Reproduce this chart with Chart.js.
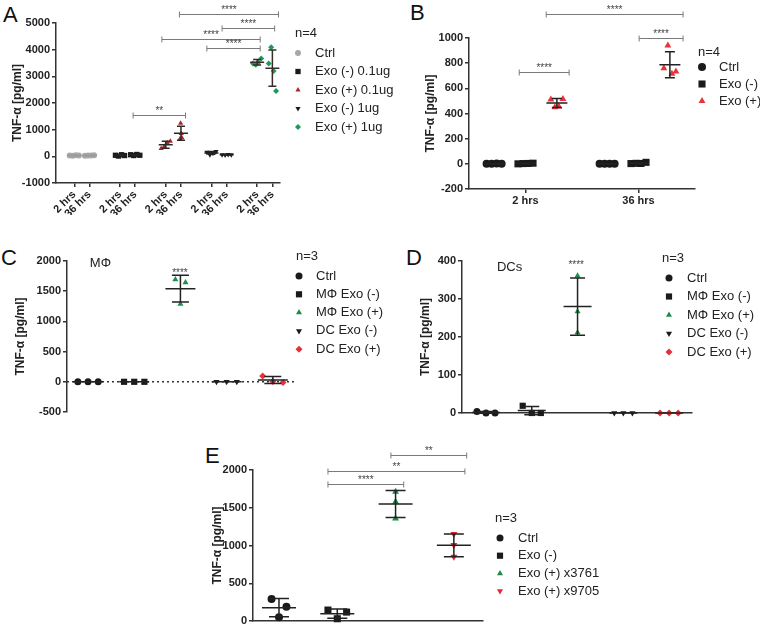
<!DOCTYPE html>
<html>
<head>
<meta charset="utf-8">
<script src="https://cdn.jsdelivr.net/npm/chart.js@4.4.1/dist/chart.umd.min.js"></script>
<style>
body { margin: 0; background: #fff; width: 760px; height: 630px; position: relative; overflow: hidden; font-family: 'Liberation Sans', Arial, sans-serif; }
canvas { position: absolute; }
.lt { position: absolute; font-size: 22px; line-height: 1; color: #111; }
</style>
</head>
<body>
<div class="lt" style="left:3px;top:4px">A</div>
<div class="lt" style="left:410px;top:2px">B</div>
<div class="lt" style="left:1px;top:247px">C</div>
<div class="lt" style="left:406px;top:247px">D</div>
<div class="lt" style="left:205px;top:445px">E</div>

<canvas id="cA" width="410" height="215" style="left:0;top:0"></canvas>
<canvas id="cB" width="380" height="230" style="left:380px;top:0"></canvas>
<canvas id="cC" width="400" height="210" style="left:0;top:215px"></canvas>
<canvas id="cD" width="380" height="210" style="left:380px;top:215px"></canvas>
<canvas id="cE" width="420" height="215" style="left:180px;top:415px"></canvas>

<script>
// ---------- data ----------
// A: each series = [2 hrs, 36 hrs]
const aLabels = ['2 hrs', '36 hrs', '2 hrs', '36 hrs', '2 hrs', '36 hrs', '2 hrs', '36 hrs', '2 hrs', '36 hrs'];
const aSeries = ['Ctrl', 'Exo (-) 0.1ug', 'Exo (+) 0.1ug', 'Exo (-) 1ug', 'Exo (+) 1ug'];
const aCtrl  = [[30, 20, 40, 30], [25, 35, 30, 40]];
const aNeg01 = [[40, 10, 60, 30], [60, 30, 70, 40]];
const aPos01 = [[290, 370, 510, 570], [660, 1240, 860, 700]];
const aNeg1  = [[150, 60, 120, 180], [60, 50, 70, 55]];
const aPos1  = [[3480, 3430, 3520, 3670], [3480, 4090, 3200, 2450]];

// B: each series = [2 hrs, 36 hrs]
const bLabels = ['2 hrs', '36 hrs'];
const bSeries = ['Ctrl', 'Exo (-)', 'Exo (+)'];
const bCtrl = [[1, 0, 2, 1], [0, 1, 1, 0]];
const bNeg  = [[0, 2, 3, 5], [2, 4, 3, 12]];
const bPos  = [[512, 450, 455, 515], [760, 940, 715, 733]];

// C: macrophages
const cSeries = ['Ctrl', 'MΦ Exo (-)', 'MΦ Exo (+)', 'DC Exo (-)', 'DC Exo (+)'];
const cValues = [[0, 0, 0], [0, 0, 0], [1695, 1287, 1645], [0, 0, 0], [95, 5, -10]];

// D: dendritic cells
const dSeries = ['Ctrl', 'MΦ Exo (-)', 'MΦ Exo (+)', 'DC Exo (-)', 'DC Exo (+)'];
const dValues = [[4, 0, 0], [19, 0, 0], [361, 267, 212], [0, 0, 0], [0, 0, 0]];

// E
const eSeries = ['Ctrl', 'Exo (-)', 'Exo (+) x3761', 'Exo (+) x9705'];
const eValues = [[291, 49, 189], [145, 30, 118], [1711, 1579, 1359], [1151, 1005, 851]];

// ---------- helpers ----------
const FONT = "'Liberation Sans', Arial, sans-serif";
const bold = s => ({family: FONT, size: s, weight: 'bold'});
// squares look smaller than circles at the same radius
const sizeFor = (style, r) => style === 'rect' ? r * 1.25 : r;

const errorBars = {
  id: 'errorBars',
  afterDatasetsDraw(chart, args, o) {
    const {ctx, scales: {x, y}} = chart;
    ctx.save();
    chart.data.datasets.forEach(ds => {
      const v = ds.data.map(p => p.y);
      const n = v.length;
      const m = v.reduce((a, b) => a + b, 0) / n;
      const sd = Math.sqrt(v.reduce((a, b) => a + (b - m) * (b - m), 0) / (n - 1));
      const cx = x.getPixelForValue(ds.center);
      const ym = y.getPixelForValue(m), yt = y.getPixelForValue(m + sd), yb = y.getPixelForValue(m - sd);
      ctx.strokeStyle = ds.barColor || '#222';
      ctx.lineWidth = 1.5;
      ctx.beginPath();
      ctx.moveTo(cx - o.meanW / 2, ym); ctx.lineTo(cx + o.meanW / 2, ym);
      ctx.moveTo(cx, yt); ctx.lineTo(cx, yb);
      ctx.moveTo(cx - o.capW / 2, yt); ctx.lineTo(cx + o.capW / 2, yt);
      ctx.moveTo(cx - o.capW / 2, yb); ctx.lineTo(cx + o.capW / 2, yb);
      ctx.stroke();
    });
    ctx.restore();
  }
};

const brackets = {
  id: 'brackets',
  afterDraw(chart, args, o) {
    if (!o.list) return;
    const {ctx, scales: {x, y}} = chart;
    ctx.save();
    ctx.strokeStyle = '#7a7a7a';
    ctx.fillStyle = '#444';
    ctx.lineWidth = 1;
    ctx.font = `10px ${FONT}`;
    ctx.textAlign = 'center';
    ctx.textBaseline = 'bottom';
    o.list.forEach(b => {
      const x1 = x.getPixelForValue(b.x1), x2 = x.getPixelForValue(b.x2), py = Math.round(y.getPixelForValue(b.y)) + 0.5;
      ctx.beginPath();
      ctx.moveTo(x1, py); ctx.lineTo(x2, py);
      ctx.moveTo(x1, py - 3); ctx.lineTo(x1, py + 3);
      ctx.moveTo(x2, py - 3); ctx.lineTo(x2, py + 3);
      ctx.stroke();
      ctx.fillText(b.t, (x1 + x2) / 2, py + 1);
    });
    ctx.restore();
  }
};

const notes = {
  id: 'notes',
  afterDraw(chart, args, o) {
    if (!o.list) return;
    const {ctx, scales: {x, y}} = chart;
    ctx.save();
    ctx.textBaseline = 'middle';
    o.list.forEach(t => {
      ctx.font = `${t.size}px ${FONT}`;
      ctx.fillStyle = t.color || '#222';
      ctx.textAlign = t.align || 'left';
      ctx.fillText(t.t, x.getPixelForValue(t.x), y.getPixelForValue(t.y));
    });
    ctx.restore();
  }
};

const zeroLine = {
  id: 'zeroLine',
  beforeDatasetsDraw(chart, args, o) {
    if (!o.show) return;
    const {ctx, chartArea: a, scales: {y}} = chart;
    const py = y.getPixelForValue(0);
    ctx.save();
    ctx.strokeStyle = '#333';
    ctx.lineWidth = 1.5;
    ctx.setLineDash([2, 3]);
    ctx.beginPath(); ctx.moveTo(a.left, py); ctx.lineTo(a.right, py); ctx.stroke();
    ctx.restore();
  }
};

const sideLegend = {
  id: 'sideLegend',
  afterDraw(chart, args, o) {
    if (!o.items) return;
    const ctx = chart.ctx;
    ctx.save();
    ctx.font = `13px ${FONT}`;
    ctx.textBaseline = 'middle';
    ctx.textAlign = 'left';
    ctx.fillStyle = '#222';
    ctx.fillText(o.title, o.titleX, o.titleY);
    o.items.forEach((it, i) => {
      const py = o.y + i * o.gap;
      ctx.fillStyle = it.color; ctx.strokeStyle = it.color;
      Chart.helpers.drawPoint(ctx, {pointStyle: it.style, radius: sizeFor(it.style, o.r), rotation: it.rot || 0, borderWidth: 0}, o.markX, py);
      ctx.fillStyle = '#222';
      ctx.fillText(it.label, o.textX, py);
    });
    ctx.restore();
  }
};

function yAxis(min, max, step, width) {
  return {
    min, max,
    ticks: {stepSize: step, autoSkip: false, font: bold(11), color: '#222', padding: 2, callback: v => String(v)},
    grid: {drawOnChartArea: false, tickLength: 4, color: '#333', lineWidth: 1.5},
    border: {color: '#333', width: 1.5},
    title: {display: true, text: 'TNF-α [pg/ml]', font: bold(12), color: '#222', padding: 0},
    afterFit(s) { s.width = width; }
  };
}

function xAxis(min, max, height, pos, labels, rot) {
  return {
    type: 'linear', min, max,
    display: height > 0,
    afterBuildTicks(s) { s.ticks = pos.map(v => ({value: v})); },
    ticks: {display: !!labels, callback: (v, i) => labels ? labels[i] : '', autoSkip: false,
            minRotation: rot || 0, maxRotation: rot || 0, font: bold(11), color: '#222', padding: 1},
    grid: {display: !!labels, drawOnChartArea: false, tickLength: 4, color: '#333', lineWidth: 1.5},
    border: {color: '#333', width: 1.5},
    afterFit(s) { s.height = height; }
  };
}

// groups: [{x, values, k, style, rot, color, bar}]
function makeDatasets(groups, spread, r) {
  return groups.map(g => ({
    data: g.values.map((v, k) => ({x: g.x + spread[k] * g.k, y: v})),
    center: g.x,
    barColor: g.bar,
    pointStyle: g.style,
    pointRotation: g.rot || 0,
    backgroundColor: g.color,
    borderColor: g.color,
    pointRadius: sizeFor(g.style, r),
    pointBorderWidth: 0,
    clip: false
  }));
}

function draw(id, cfg) {
  new Chart(document.getElementById(id), {
    type: 'scatter',
    data: {datasets: cfg.datasets},
    options: {
      responsive: false, animation: false, events: [],
      layout: {padding: cfg.padding},
      scales: {x: cfg.x, y: cfg.y},
      plugins: {
        legend: {display: false}, tooltip: {enabled: false},
        errorBars: cfg.bars, brackets: {list: cfg.brackets}, notes: {list: cfg.notes},
        zeroLine: {show: !!cfg.zero}, sideLegend: cfg.legend
      }
    },
    plugins: [zeroLine, errorBars, brackets, notes, sideLegend]
  });
}

// ---------- panel A ----------
const aX = [1, 2, 4, 5, 7, 8, 10, 11, 13, 14];
const aSpread = [-0.3, -0.1, 0.1, 0.3];
const aStyle = [
  {style: 'circle', color: '#a8a8a8', bar: '#999', k: [1, 1]},
  {style: 'rect', color: '#1a1a1a', bar: '#222', k: [1, 1]},
  {style: 'triangle', color: '#a8262c', bar: '#2a2a2a', k: [1, 0.2]},
  {style: 'triangle', rot: 180, color: '#1a1a1a', bar: '#222', k: [1, 1]},
  {style: 'rectRot', color: '#1f9a56', bar: '#3a2a2a', k: [0.9, 0.8]}
];
const aValues = [aCtrl, aNeg01, aPos01, aNeg1, aPos1];
const aGroups = [];
aValues.forEach((s, i) => s.forEach((vals, t) => aGroups.push(Object.assign({}, aStyle[i], {x: aX[i * 2 + t], values: vals, k: aStyle[i].k[t]}))));

draw('cA', {
  datasets: makeDatasets(aGroups, aSpread, 3),
  padding: {left: 10, top: 23, right: 130, bottom: 0},
  x: xAxis(-0.2, 14.5, 32, aX, aLabels, 45),
  y: yAxis(-1000, 5000, 1000, 46),
  bars: {meanW: 14, capW: 8},
  brackets: [
    {x1: 7.9, x2: 14.4, y: 5356, t: '****'},
    {x1: 10.7, x2: 14.15, y: 4794, t: '****'},
    {x1: 6.75, x2: 13.2, y: 4382, t: '****'},
    {x1: 9.7, x2: 13.2, y: 4045, t: '****'},
    {x1: 4.86, x2: 8.3, y: 1536, t: '**'}
  ],
  legend: {title: 'n=4', titleX: 295, titleY: 33, markX: 298, textX: 315, y: 53, gap: 18.5, r: 3,
           items: aSeries.map((l, i) => ({label: l, style: aStyle[i].style, rot: aStyle[i].rot, color: aStyle[i].color}))}
});

// ---------- panel B ----------
const bX = [[1, 4.6], [2, 5.6], [3, 6.6]];
const bSpread = [-0.24, -0.08, 0.08, 0.24];
const bStyle = [
  {style: 'circle', color: '#1a1a1a'},
  {style: 'rect', color: '#1a1a1a'},
  {style: 'triangle', color: '#e8333b'}
];
const bGroups = [];
[bCtrl, bNeg, bPos].forEach((s, i) => s.forEach((vals, t) => bGroups.push(Object.assign({}, bStyle[i], {x: bX[i][t], values: vals, k: i === 2 ? 0.8 : 1, bar: '#222'}))));

draw('cB', {
  datasets: makeDatasets(bGroups, bSpread, 4),
  padding: {left: 43, top: 38, right: 65, bottom: 0},
  x: xAxis(0.2, 7.4, 41, [2, 5.6], bLabels, 0),
  y: yAxis(-200, 1000, 200, 46),
  bars: {meanW: 21, capW: 10},
  brackets: [
    {x1: 2.66, x2: 7.02, y: 1192, t: '****'},
    {x1: 5.62, x2: 7.02, y: 1001, t: '****'},
    {x1: 1.8, x2: 3.39, y: 731, t: '****'}
  ],
  legend: {title: 'n=4', titleX: 318, titleY: 52, markX: 322, textX: 339, y: 67, gap: 17, r: 4,
           items: bSeries.map((l, i) => ({label: l, style: bStyle[i].style, color: bStyle[i].color}))}
});

// ---------- panels C / D ----------
const cdStyle = [
  {style: 'circle', color: '#1a1a1a'},
  {style: 'rect', color: '#1a1a1a'},
  {style: 'triangle', color: '#1e8c4e'},
  {style: 'triangle', rot: 180, color: '#1a1a1a'},
  {style: 'rectRot', color: '#e8303a'}
];
const cdX = [1, 2, 3, 4, 5];
const cdSpread = [-0.22, 0, 0.22];
const cK = [1, 1, 0.5, 1, 1];
const dK = [0.9, 0.9, 0, 0.9, 0.9];

draw('cC', {
  datasets: makeDatasets(cValues.map((v, i) => Object.assign({}, cdStyle[i], {x: cdX[i], values: v, k: cK[i], bar: '#222'})), cdSpread, 3.5),
  padding: {left: 13, top: 46, right: 105, bottom: 13},
  x: xAxis(0.545, 5.48, 0, cdX, null, 0),
  y: yAxis(-500, 2000, 500, 54),
  zero: true,
  bars: {meanW: 30, capW: 17},
  brackets: [],
  notes: [
    {t: 'MΦ', x: 1.04, y: 1964, size: 13},
    {t: '****', x: 2.99, y: 1800, size: 10, align: 'center', color: '#444'}
  ],
  legend: {title: 'n=3', titleX: 296, titleY: 41, markX: 299, textX: 316, y: 61, gap: 18.3, r: 3.5,
           items: cSeries.map((l, i) => ({label: l, style: cdStyle[i].style, rot: cdStyle[i].rot, color: cdStyle[i].color}))}
});

draw('cD', {
  datasets: makeDatasets(dValues.map((v, i) => Object.assign({}, cdStyle[i], {x: cdX[i], values: v, k: dK[i], bar: '#222'})), cdSpread, 3.5),
  padding: {left: 38, top: 46, right: 68, bottom: 0},
  x: xAxis(0.476, 5.5, 12, cdX, null, 0),
  y: yAxis(0, 400, 100, 44),
  bars: {meanW: 28, capW: 15},
  brackets: [],
  notes: [
    {t: 'DCs', x: 1.24, y: 382, size: 13},
    {t: '****', x: 2.97, y: 388, size: 10, align: 'center', color: '#444'}
  ],
  legend: {title: 'n=3', titleX: 282, titleY: 43, markX: 289, textX: 307, y: 63, gap: 18.5, r: 3.5,
           items: dSeries.map((l, i) => ({label: l, style: cdStyle[i].style, rot: cdStyle[i].rot, color: cdStyle[i].color}))}
});

// ---------- panel E ----------
const eStyle = [
  {style: 'circle', color: '#1a1a1a'},
  {style: 'rect', color: '#1a1a1a'},
  {style: 'triangle', color: '#1f8a4c'},
  {style: 'triangle', rot: 180, color: '#e3262c'}
];
const eX = [1, 2, 3, 4];
const eSpread = [-0.16, 0, 0.16];
const eK = [0.8, 1, 0, 0];

draw('cE', {
  datasets: makeDatasets(eValues.map((v, i) => Object.assign({}, eStyle[i], {x: eX[i], values: v, k: eK[i], bar: '#222'})), eSpread, 4),
  padding: {left: 30, top: 55, right: 117, bottom: 0},
  x: xAxis(0.554, 4.5, 9, eX, null, 0),
  y: yAxis(0, 2000, 500, 43),
  bars: {meanW: 34, capW: 20},
  brackets: [
    {x1: 2.92, x2: 4.22, y: 2196, t: '**'},
    {x1: 1.84, x2: 4.19, y: 1984, t: '**'},
    {x1: 1.84, x2: 3.14, y: 1812, t: '****'}
  ],
  legend: {title: 'n=3', titleX: 315, titleY: 103, markX: 320, textX: 338, y: 123, gap: 17.7, r: 3.5,
           items: eSeries.map((l, i) => ({label: l, style: eStyle[i].style, rot: eStyle[i].rot, color: eStyle[i].color}))}
});
</script>
</body>
</html>
